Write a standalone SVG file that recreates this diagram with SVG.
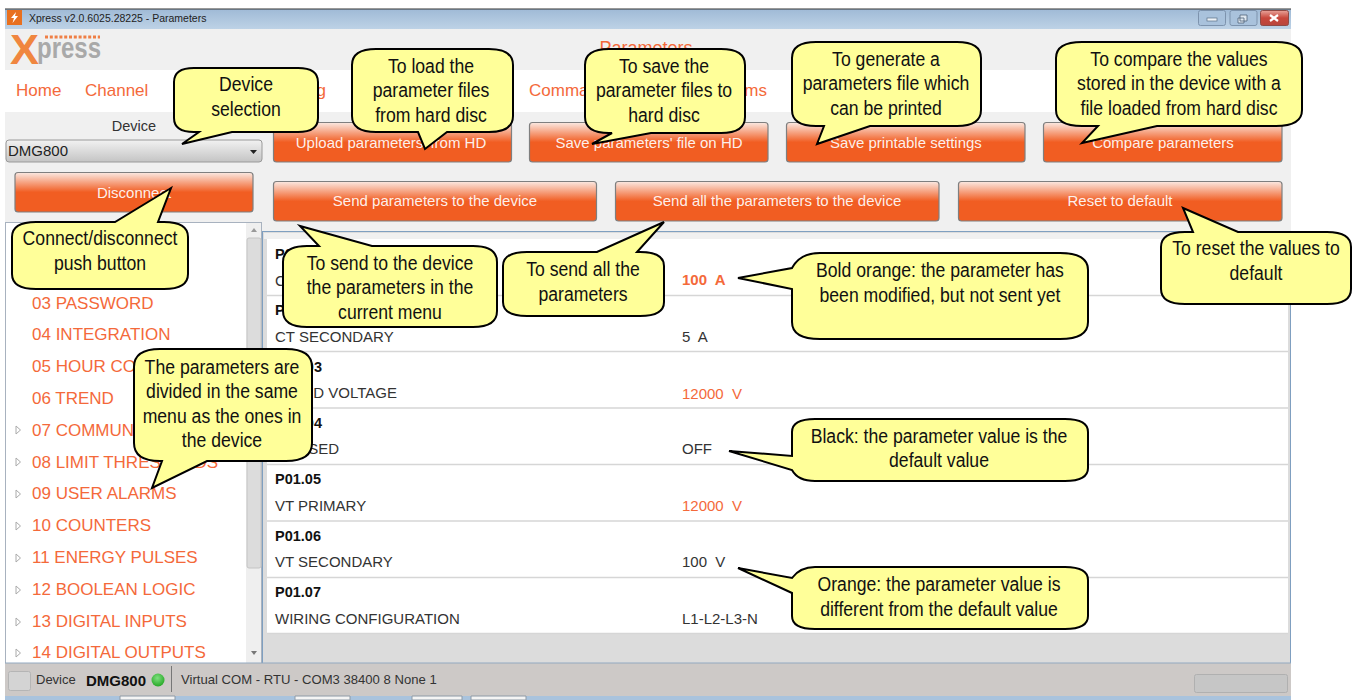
<svg xmlns="http://www.w3.org/2000/svg" width="1359" height="700" viewBox="0 0 1359 700">
<style>
text{font-family:"Liberation Sans",Arial,sans-serif}
.btn{fill:url(#bg);stroke:#7f7f7f;stroke-width:1.2}
.bt{fill:#fff;font-size:15px;text-anchor:middle;fill-opacity:.92}
.nav{fill:#f4693a;font-size:17px}
.tree{fill:#f4693a;font-size:17px}
.tri{fill:#fff;stroke:#aaa;stroke-width:1}
.row{stroke:#d6d6d6;stroke-width:1.300}
.pid{fill:#111;font-size:14.500px;font-weight:bold}
.pn{fill:#333;font-size:15px}
.cv{fill:#ffff99;stroke:#000;stroke-width:2;stroke-linejoin:miter}
.ct{fill:#111;font-size:21px;text-anchor:middle}
.wb{stroke:#7d93ad;stroke-width:1}
</style>
<defs>
<linearGradient id="bg" x1="0" y1="0" x2="0" y2="1"><stop offset="0" stop-color="#fbe9e2"/><stop offset=".5" stop-color="#f15d22"/><stop offset="1" stop-color="#f15d22"/></linearGradient>
<linearGradient id="tb" x1="0" y1="0" x2="0" y2="1"><stop offset="0" stop-color="#9fbad6"/><stop offset="1" stop-color="#bdd2e6"/></linearGradient>
<linearGradient id="cb" x1="0" y1="0" x2="0" y2="1"><stop offset="0" stop-color="#f2f2f2"/><stop offset="1" stop-color="#c4c4c4"/></linearGradient>
<linearGradient id="rb" x1="0" y1="0" x2="0" y2="1"><stop offset="0" stop-color="#e8a39a"/><stop offset=".5" stop-color="#c8473c"/><stop offset="1" stop-color="#b8453c"/></linearGradient>
<radialGradient id="led" cx=".45" cy=".35" r=".7"><stop offset="0" stop-color="#7fe07f"/><stop offset="1" stop-color="#1fa31f"/></radialGradient>
</defs>
<rect width="1359" height="700" fill="#fff"/>
<g id="window">
<rect x="5" y="29" width="1286" height="634" fill="#f0f0f0"/>
<rect x="5" y="70" width="1286" height="42" fill="#fff"/>
<rect x="5" y="9" width="1286" height="20" fill="url(#tb)"/>
<path d="M5 9H1291" stroke="#333" stroke-width="1"/>
<rect x="7" y="10" width="15" height="15" fill="#e8701f"/>
<path d="M16 12L11 18H14L12.5 23L18 16H15L16 12Z" fill="#fff"/>
<text x="29" y="22" font-size="10.5" fill="#222">Xpress v2.0.6025.28225 - Parameters</text>
<rect class="wb" x="1198.500" y="10.500" width="27" height="15" rx="2" fill="#a9c2dc"/>
<rect x="1207" y="18" width="10" height="3" fill="#eef3f8" stroke="#5a6f86" stroke-width=".7"/>
<rect class="wb" x="1230" y="10.500" width="27" height="15" rx="2" fill="#a9c2dc"/>
<path d="M1240 15h7v6h-7zM1238 18h6v5h-6z" fill="#dfe8f1" stroke="#4f6379" stroke-width=".8"/>
<rect x="1260.500" y="10.500" width="28" height="15" rx="2" fill="url(#rb)" stroke="#8f4a46"/>
<path d="M1270 15l8 6M1278 15l-8 6" stroke="#fff" stroke-width="2.200"/>
</g>
<g id="logo">
<text x="10" y="64" font-size="42" font-weight="bold" fill="#f0863f" textLength="29" lengthAdjust="spacingAndGlyphs">X</text>
<text x="37" y="58" font-size="29" font-weight="bold" fill="#a9a9a9" textLength="64" lengthAdjust="spacingAndGlyphs">press</text>
<path d="M45 37H100" stroke="#ef7f45" stroke-width="3" stroke-dasharray="3 1.800"/>
</g>
<g id="menu">
<text class="nav" x="646" y="54" text-anchor="middle" style="font-size:18px">Parameters</text>
<text class="nav" x="16" y="96">Home</text>
<text class="nav" x="85" y="96">Channel</text>
<text class="nav" x="326" y="96" text-anchor="end">g</text>
<text class="nav" x="529" y="96">Comma</text>
<text class="nav" x="767" y="96" text-anchor="end">ms</text>
</g>
<g id="device-select">
<text x="134" y="131" font-size="14.500" fill="#333" text-anchor="middle">Device</text>
<rect x="6" y="140" width="256" height="22" rx="3" fill="url(#cb)" stroke="#9a9a9a"/>
<text x="8" y="156" font-size="15" fill="#222">DMG800</text>
<path d="M250 150h7l-3.500 4z" fill="#222"/>
</g>
<g id="disconnect-button">
<rect class="btn" x="15" y="172.500" width="238" height="39.500" rx="3"/>
<text class="bt" x="134" y="198">Disconnect</text>
</g>
<g id="buttons">
<g id="btn-upload"><rect class="btn" x="273.500" y="122.500" width="238" height="39.500" rx="3"/><text class="bt" x="391" y="148">Upload parameters' from HD</text></g>
<g id="btn-save"><rect class="btn" x="529.500" y="122.500" width="238.500" height="39.500" rx="3"/><text class="bt" x="649" y="148">Save parameters' file on HD</text></g>
<g id="btn-print"><rect class="btn" x="786.500" y="122.500" width="238.500" height="39.500" rx="3"/><text class="bt" x="906" y="148">Save printable settings</text></g>
<g id="btn-compare"><rect class="btn" x="1043.500" y="122.500" width="238.500" height="39.500" rx="3"/><text class="bt" x="1163" y="148">Compare parameters</text></g>
<g id="btn-send"><rect class="btn" x="273.500" y="181.500" width="323" height="39.500" rx="3"/><text class="bt" x="435" y="206">Send parameters to the device</text></g>
<g id="btn-sendall"><rect class="btn" x="615.500" y="181.500" width="323.500" height="39.500" rx="3"/><text class="bt" x="777" y="206">Send all the parameters to the device</text></g>
<g id="btn-reset"><rect class="btn" x="958.500" y="181.500" width="323.500" height="39.500" rx="3"/><text class="bt" x="1120" y="206">Reset to default</text></g>
</g>
<g id="tree">
<rect x="5.500" y="222.500" width="256" height="441" fill="#fff" stroke="#a8b2bf"/>
<rect x="246" y="223" width="15" height="440" fill="#efefef"/>
<rect x="247" y="238" width="14" height="330" rx="2" fill="#dcdcdc" stroke="#c4c4c4"/>
<path d="M251 232l3-4 3 4z" fill="#999"/><path d="M251 651l3 4 3-4z" fill="#777"/>
<text class="tree" x="32" y="309">03 PASSWORD</text>
<text class="tree" x="32" y="340">04 INTEGRATION</text>
<text class="tree" x="32" y="372">05 HOUR CO</text>
<text class="tree" x="32" y="404">06 TREND</text>
<text class="tree" x="32" y="436">07 COMMUN</text>
<text class="tree" x="32" y="468">08 LIMIT THRES</text>
<text class="tree" x="218" y="468" text-anchor="end">DS</text>
<text class="tree" x="32" y="499">09 USER ALARMS</text>
<text class="tree" x="32" y="531">10 COUNTERS</text>
<text class="tree" x="32" y="563">11 ENERGY PULSES</text>
<text class="tree" x="32" y="595">12 BOOLEAN LOGIC</text>
<text class="tree" x="32" y="627">13 DIGITAL INPUTS</text>
<text class="tree" x="32" y="658">14 DIGITAL OUTPUTS</text>
<path class="tri" d="M16 426v8l4.500-4zM16 458v8l4.500-4zM16 490v8l4.500-4zM16 522v8l4.500-4zM16 554v8l4.500-4zM16 586v8l4.500-4zM16 618v8l4.500-4zM16 649v8l4.500-4z"/>
</g>
<g id="table">
<rect x="262.500" y="231.500" width="1028" height="432" fill="#dcdcdc" stroke="#7f9fc0"/>
<rect x="264" y="233" width="1025" height="6" fill="#f0f0f0"/>
<rect x="267" y="239" width="1021" height="394" fill="#fff"/>
<path class="row" d="M267 295.500H1288M267 351.500H1288M267 408H1288M267 464.500H1288M267 521H1288M267 577.500H1288M267 633.500H1288"/>
<text class="pid" x="275" y="259">P0</text>
<text class="pn" x="275" y="286">C</text>
<text class="pid" x="275" y="315">P</text>
<text class="pn" x="275" y="342">CT SECONDARY</text>
<text class="pid" x="322" y="372" text-anchor="end">03</text>
<text class="pn" x="397" y="398" text-anchor="end">D VOLTAGE</text>
<text class="pid" x="322" y="428" text-anchor="end">04</text>
<text class="pn" x="339" y="454" text-anchor="end">SED</text>
<text class="pid" x="275" y="484">P01.05</text>
<text class="pn" x="275" y="511">VT PRIMARY</text>
<text class="pid" x="275" y="541">P01.06</text>
<text class="pn" x="275" y="567">VT SECONDARY</text>
<text class="pid" x="275" y="597">P01.07</text>
<text class="pn" x="275" y="624">WIRING CONFIGURATION</text>
<text x="682" y="285" font-size="15" font-weight="bold" fill="#f4693a" xml:space="preserve">100  A</text>
<text class="pn" x="682" y="342" xml:space="preserve">5  A</text>
<text x="682" y="399" font-size="15" fill="#f4693a" xml:space="preserve">12000  V</text>
<text class="pn" x="682" y="454">OFF</text>
<text x="682" y="511" font-size="15" fill="#f4693a" xml:space="preserve">12000  V</text>
<text class="pn" x="682" y="567" xml:space="preserve">100  V</text>
<text class="pn" x="682" y="624">L1-L2-L3-N</text>
</g>
<g id="status-bar">
<rect x="5" y="663" width="1286" height="33" fill="#cdc9c7"/>
<path d="M5 663H1291" stroke="#93a9c0" stroke-width="1"/>
<rect x="8.500" y="671.500" width="22" height="19" rx="2" fill="#d4d4d4" stroke="#b5b5b5"/>
<text x="36" y="684" font-size="13" fill="#333">Device</text>
<text x="86" y="686" font-size="15" font-weight="bold" fill="#111">DMG800</text>
<circle cx="158" cy="680" r="6.500" fill="url(#led)"/>
<path d="M171.500 666V692" stroke="#777"/>
<text x="181" y="684" font-size="13.100" fill="#333">Virtual COM - RTU - COM3 38400 8 None 1</text>
<rect x="1194.500" y="674.500" width="93" height="18" rx="2" fill="#c6c6c6" stroke="#b0b0b0"/>
<rect x="5" y="696" width="1286" height="4" fill="#a9c3dd"/>
<path d="M120 700v-4h55v4zM295 700v-4h55v4zM412 700v-4h50v4zM471 700v-4h55v4z" fill="#f4f4f4" stroke="#8e9aa6"/>
</g>
<g id="callout-device">
<path class="cv" d="M194 68H298Q318 68 318 82V118Q318 132 298 132H232L182 144L199 132H194Q174 132 174 118V82Q174 68 194 68Z"/>
<g transform="translate(246 0) scale(.84 1)"><text class="ct" x="0" y="91">Device</text><text class="ct" x="0" y="116">selection</text></g>
</g>
<g id="callout-load">
<path class="cv" d="M376 49H489Q513 49 513 65V116Q513 132 489 132H447L425 149L418 132H376Q352 132 352 116V65Q352 49 376 49Z"/>
<g transform="translate(431 0) scale(.84 1)"><text class="ct" x="0" y="73">To load the</text><text class="ct" x="0" y="97">parameter files</text><text class="ct" x="0" y="122">from hard disc</text></g>
</g>
<g id="callout-save">
<path class="cv" d="M609 49H721Q745 49 745 65V117Q745 133 721 133H651L592 144L612 133H609Q585 133 585 117V65Q585 49 609 49Z"/>
<g transform="translate(664 0) scale(.84 1)"><text class="ct" x="0" y="73">To save the</text><text class="ct" x="0" y="97">parameter files to</text><text class="ct" x="0" y="122">hard disc</text></g>
</g>
<g id="callout-generate">
<path class="cv" d="M816 42H957Q981 42 981 58V110Q981 126 957 126H870L817 144L824 126H816Q792 126 792 110V58Q792 42 816 42Z"/>
<g transform="translate(886 0) scale(.84 1)"><text class="ct" x="0" y="66">To generate a</text><text class="ct" x="0" y="90">parameters file which</text><text class="ct" x="0" y="115">can be printed</text></g>
</g>
<g id="callout-compare">
<path class="cv" d="M1082 42H1276Q1302 42 1302 58V110Q1302 126 1276 126H1157L1082 143L1098 126H1082Q1056 126 1056 110V58Q1056 42 1082 42Z"/>
<g transform="translate(1179 0) scale(.84 1)"><text class="ct" x="0" y="66">To compare the values</text><text class="ct" x="0" y="90">stored in the device with a</text><text class="ct" x="0" y="115">file loaded from hard disc</text></g>
</g>
<g id="callout-reset">
<path class="cv" d="M1185 232H1193L1183 208L1238 232H1327Q1351 232 1351 247V289Q1351 304 1327 304H1185Q1161 304 1161 289V247Q1161 232 1185 232Z"/>
<g transform="translate(1256 0) scale(.84 1)"><text class="ct" x="0" y="255">To reset the values to</text><text class="ct" x="0" y="280">default</text></g>
</g>
<g id="callout-connect">
<path class="cv" d="M36 222H115L171 188L158 222H164Q188 222 188 237V274Q188 289 164 289H36Q12 289 12 274V237Q12 222 36 222Z"/>
<g transform="translate(100 0) scale(.84 1)"><text class="ct" x="0" y="245">Connect/disconnect</text><text class="ct" x="0" y="270">push button</text></g>
</g>
<g id="callout-send">
<path class="cv" d="M307 246H319L300 226L372 246H473Q497 246 497 262V311Q497 327 473 327H307Q283 327 283 311V262Q283 246 307 246Z"/>
<g transform="translate(390 0) scale(.84 1)"><text class="ct" x="0" y="270">To send to the device</text><text class="ct" x="0" y="294">the parameters in the</text><text class="ct" x="0" y="319">current menu</text></g>
</g>
<g id="callout-sendall">
<path class="cv" d="M527 252H597L664 222L637 252H640Q664 252 664 266V302Q664 316 640 316H527Q503 316 503 302V266Q503 252 527 252Z"/>
<g transform="translate(583 0) scale(.84 1)"><text class="ct" x="0" y="276">To send all the</text><text class="ct" x="0" y="301">parameters</text></g>
</g>
<g id="callout-bold">
<path class="cv" d="M820 253H1060Q1088 253 1088 270V322Q1088 339 1060 339H820Q792 339 792 322V289L738 278L792 268Q800 253 820 253Z"/>
<g transform="translate(940 0) scale(.84 1)"><text class="ct" x="0" y="277">Bold orange: the parameter has</text><text class="ct" x="0" y="302">been modified, but not sent yet</text></g>
</g>
<g id="callout-black">
<path class="cv" d="M815 419H1065Q1088 419 1088 432V468Q1088 481 1065 481H815Q798 481 792 470L729 451L792 456V432Q792 419 815 419Z"/>
<g transform="translate(939 0) scale(.84 1)"><text class="ct" x="0" y="443">Black: the parameter value is the</text><text class="ct" x="0" y="467">default value</text></g>
</g>
<g id="callout-orange">
<path class="cv" d="M815 567H1065Q1088 567 1088 580V616Q1088 629 1065 629H815Q792 629 792 616V593L738 568L792 578Q800 567 815 567Z"/>
<g transform="translate(939 0) scale(.84 1)"><text class="ct" x="0" y="591">Orange: the parameter value is</text><text class="ct" x="0" y="616">different from the default value</text></g>
</g>
<g id="callout-menu">
<path class="cv" d="M160 349H286Q312 349 312 367V443Q312 461 286 461H207L152 488L162 461H160Q134 461 134 443V367Q134 349 160 349Z"/>
<g transform="translate(222 0) scale(.84 1)"><text class="ct" x="0" y="374">The parameters are</text><text class="ct" x="0" y="398">divided in the same</text><text class="ct" x="0" y="423">menu as the ones in</text><text class="ct" x="0" y="447">the device</text></g>
</g>
</svg>
